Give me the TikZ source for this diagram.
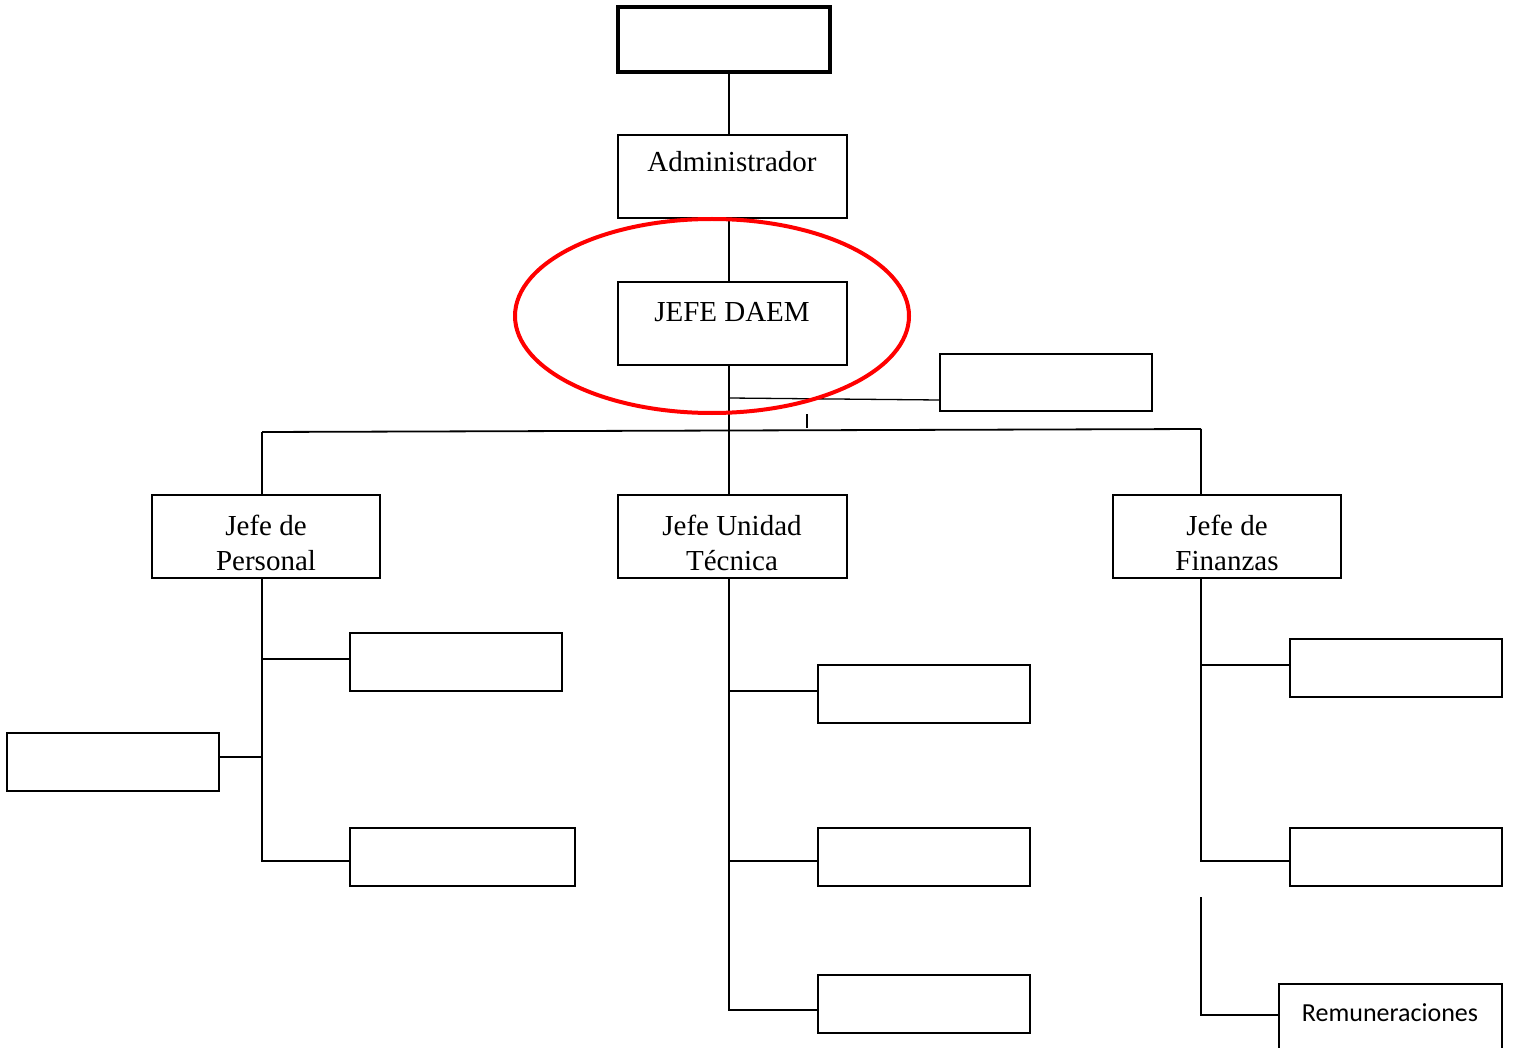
\documentclass[tikz,border=0pt]{standalone}
\usepackage{fontspec}
\setmainfont{Liberation Serif}
\newfontfamily\calib{Carlito}
\begin{document}
\begin{tikzpicture}[x=1pt,y=-1pt,
  box/.style={draw,line width=1.8pt,inner sep=0pt,minimum width=212pt,minimum height=58pt},
  bigbox/.style={box,minimum width=229pt,minimum height=83pt},
  lbl/.style={inner sep=0pt,anchor=base,align=center,font=\fontsize{29}{35}\selectfont},
  conn/.style={line width=1.8pt}]
\useasboundingbox (0,0) rectangle (1515,1048);
% boxes
\node[box,line width=3.2pt,minimum width=212pt,minimum height=65pt] (top) at (724,39.5) {};
\node[bigbox] (adm) at (732.5,176.5) {};
\node[bigbox] (daem) at (732.5,323.5) {};
\node[box,line width=1.6pt,minimum height=57pt] (side) at (1046,382.5) {};
\node[bigbox,minimum width=228pt] (pers) at (266,536.5) {};
\node[bigbox] (tec) at (732.5,536.5) {};
\node[bigbox,minimum width=228pt] (fin) at (1227,536.5) {};
\node[box] (p1) at (456,662) {};
\node[box] (p2) at (113,762) {};
\node[box,minimum width=225pt] (p3) at (462.5,857) {};
\node[box] (t1) at (924,694) {};
\node[box] (t2) at (924,857) {};
\node[box] (t3) at (924,1004) {};
\node[box] (f1) at (1396,668) {};
\node[box] (f2) at (1396,857) {};
\node[box,minimum width=223pt,minimum height=68pt] (rem) at (1390.5,1018) {};
% labels
\node[lbl] (admT) at (732,172) {Administrador};
\node[lbl] (daemT) at (732,322) {JEFE DAEM};
\node[lbl] (persT) at (266,570) {Jefe de\\Personal};
\node[lbl] (tecT) at (732,570) {Jefe Unidad\\Técnica};
\node[lbl] (finT) at (1227,570) {Jefe de\\Finanzas};
\node[inner sep=0pt,anchor=base,font=\calib\fontsize{26}{30}\selectfont] (remT) at (1390,1021) {Remuneraciones};
% coordinates
\coordinate (hl) at (262,432);
\coordinate (hr) at (1201,429);
\coordinate (sj) at (729,398);
\coordinate (tk1) at (807,414);
\coordinate (tk2) at (807,428);
\coordinate (pb) at (262,861);
\coordinate (tb) at (729,1010);
\coordinate (fb) at (1201,861);
\coordinate (rv) at (1201,897);
\coordinate (rb) at (1201,1015);
% connectors
\draw[conn] (top.south -| 729,0) -- (adm.north -| 729,0);
\draw[conn] (adm.south -| 729,0) -- (daem.north -| 729,0);
\draw[conn] (daem.south -| 729,0) -- (tec.north -| 729,0);
\draw[line width=1.3pt] (sj) -- (side.west |- 0,400);
\draw[line width=1.5pt] (tk1) -- (tk2);
\draw[conn] (hl) -- (hr);
\draw[conn] (hl) -- (pers.north -| hl);
\draw[conn] (hr) -- (fin.north -| hr);
% personal branch
\draw[conn] (pers.south -| hl) -- (pb) -- (p3.west |- pb);
\draw[conn] (262,659) -- (p1.west |- 0,659);
\draw[conn] (262,757) -- (p2.east |- 0,757);
% tecnica branch
\draw[conn] (tec.south -| 729,0) -- (tb) -- (t3.west |- tb);
\draw[conn] (729,691) -- (t1.west |- 0,691);
\draw[conn] (729,861) -- (t2.west |- 0,861);
% finanzas branch
\draw[conn] (fin.south -| fb) -- (fb) -- (f2.west |- fb);
\draw[conn] (1201,665) -- (f1.west |- 0,665);
\draw[conn] (rv) -- (rb) -- (rem.west |- rb);
% red ellipse
\draw[red,line width=4pt] (712,316) ellipse [x radius=197,y radius=97];
\end{tikzpicture}
\end{document}
